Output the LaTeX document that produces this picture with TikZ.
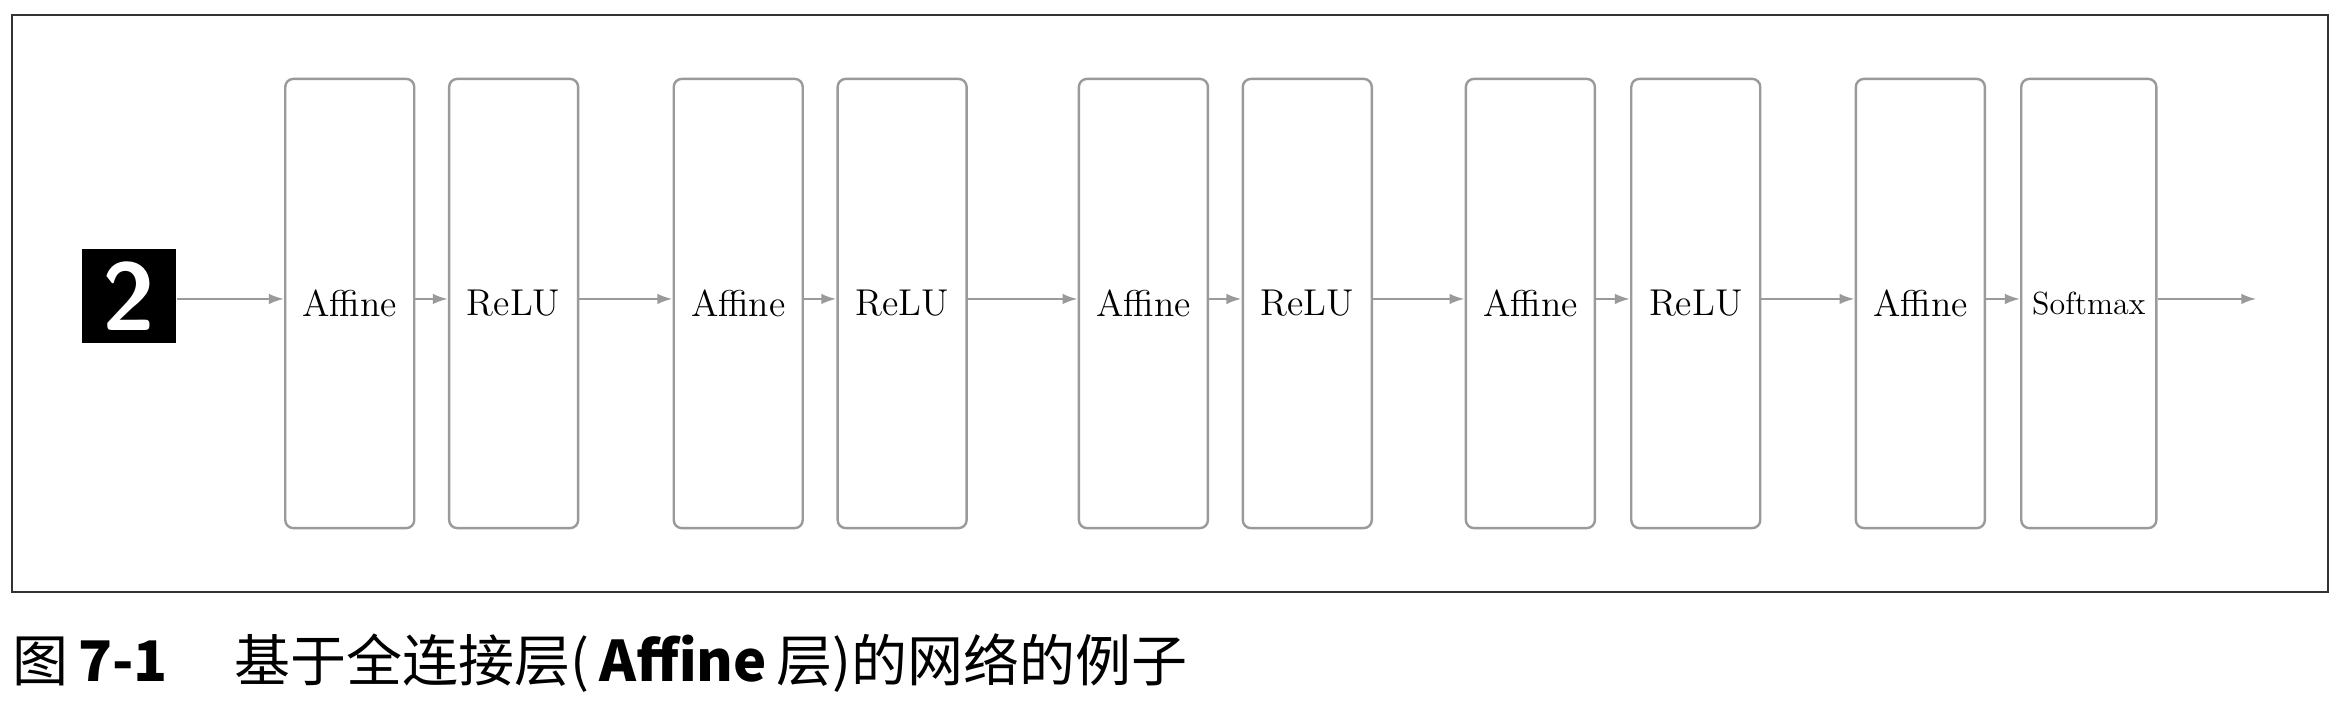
\documentclass[tikz,border=0pt]{standalone}
\usepackage{fontspec}
\newfontfamily\cjk{Noto Sans CJK SC}
\usetikzlibrary{arrows.meta}
\definecolor{layergray}{HTML}{9A9A9A}
\tikzset{
  layer/.style={draw=layergray, line width=0.9pt, rounded corners=3pt,
    minimum width=17mm, minimum height=59.2mm, inner sep=0pt,
    font=\fontsize{14}{16}\selectfont},
  flow/.style={-{Latex[length=2mm,width=1.4mm]}, draw=layergray, line width=0.9pt}
}
\begin{document}
\begin{tikzpicture}[x=0.2mm,y=-0.2mm]
                \useasboundingbox (0,0) rectangle (1546,469);
                \draw[line width=0.9pt, black!80] (8,10) rectangle (1534,390);
                % input digit
                \node[fill=black, minimum size=12.4mm, inner sep=0pt] (img) at (85,195)
                    {\color{white}\fontsize{36}{36}\selectfont\sffamily\bfseries 2};
                % layers
                \node[layer] (aff1) at (230.5,200) {Affine};
                \node[layer] (relu1) at (338.5,200) {ReLU};
                \node[layer] (aff2) at (486.5,200) {Affine};
                \node[layer] (relu2) at (594.5,200) {ReLU};
                \node[layer] (aff3) at (753.5,200) {Affine};
                \node[layer] (relu3) at (861.5,200) {ReLU};
                \node[layer] (aff4) at (1008.5,200) {Affine};
                \node[layer] (relu4) at (1117.5,200) {ReLU};
                \node[layer] (aff5) at (1265.5,200) {Affine};
                \node[layer, minimum width=17.8mm, font=\fontsize{12}{14}\selectfont] (soft) at (1376.5,200) {Softmax};
                \coordinate (out) at (1487,197);
                % connectors
                \draw[flow] (img.east |- 0,197) -- (aff1.west |- 0,197);
                \draw[flow] (aff1.east |- 0,197) -- (relu1.west |- 0,197);
                \draw[flow] (relu1.east |- 0,197) -- (aff2.west |- 0,197);
                \draw[flow] (aff2.east |- 0,197) -- (relu2.west |- 0,197);
                \draw[flow] (relu2.east |- 0,197) -- (aff3.west |- 0,197);
                \draw[flow] (aff3.east |- 0,197) -- (relu3.west |- 0,197);
                \draw[flow] (relu3.east |- 0,197) -- (aff4.west |- 0,197);
                \draw[flow] (aff4.east |- 0,197) -- (relu4.west |- 0,197);
                \draw[flow] (relu4.east |- 0,197) -- (aff5.west |- 0,197);
                \draw[flow] (aff5.east |- 0,197) -- (soft.west |- 0,197);
                \draw[flow] (soft.east |- 0,197) -- (out);
                % caption
                \node[anchor=west, inner sep=0pt, font=\fontsize{21}{24}\selectfont] (cap) at (8,437)
                    {\cjk 图\,\textbf{7-1}\hspace{1.2em}基于全连接层(\,\textbf{Affine}\,层)的网络的例子};
\end{tikzpicture}
\end{document}
